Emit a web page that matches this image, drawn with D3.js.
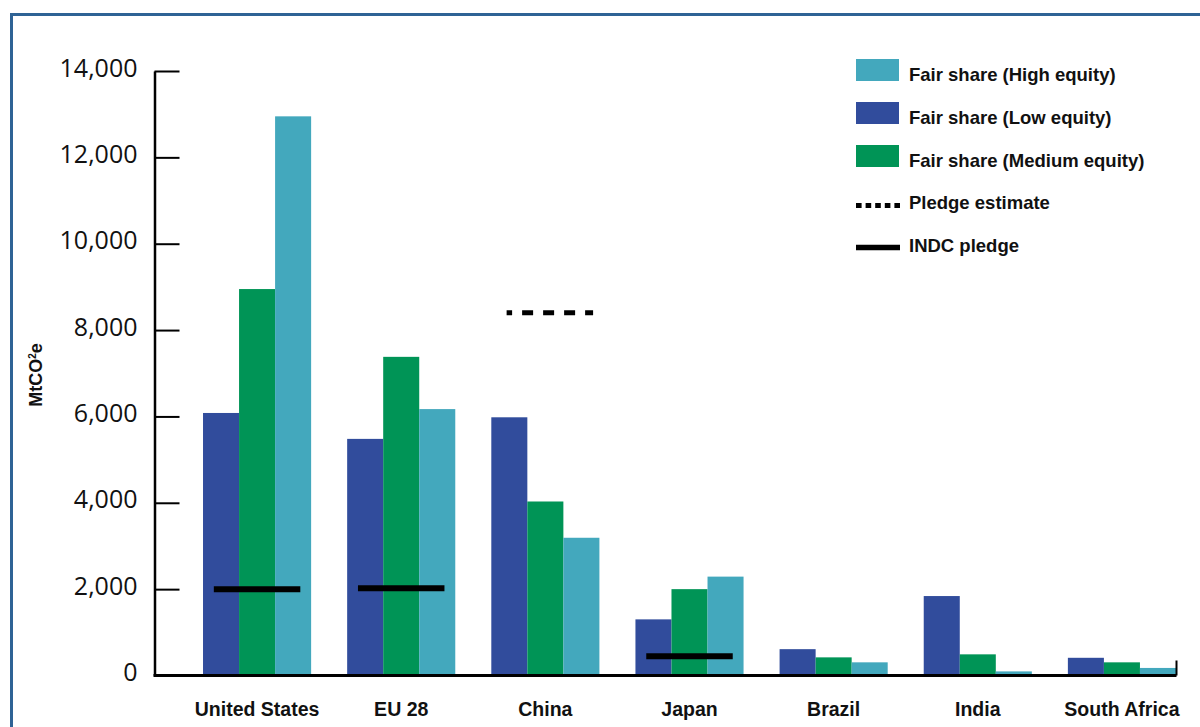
<!DOCTYPE html>
<html>
<head>
<meta charset="utf-8">
<script src="https://cdn.jsdelivr.net/npm/d3@7"></script>
<style>
  html, body { margin: 0; padding: 0; background: #fff; }
  svg { display: block; }
</style>
</head>
<body>
<svg id="chart" width="1200" height="727"></svg>
<script>
// Emission allowances by country under three equity scenarios (MtCO2e)
const categories = ["United States", "EU 28", "China", "Japan", "Brazil", "India", "South Africa"];
const lowEquity    = [6080, 5480, 5980, 1300, 610, 1840, 410];
const mediumEquity = [8950, 7380, 4030, 2000, 420, 490, 305];
const highEquity   = [12950, 6170, 3190, 2290, 305, 95, 175];
const indcPledge     = [2000, 2020, null, 445, null, null, null];
const pledgeEstimate = [null, null, 8400, null, null, null, null];
const yTicks = [0, 2000, 4000, 6000, 8000, 10000, 12000, 14000];

const seriesNames = ["Fair share (Low equity)", "Fair share (Medium equity)", "Fair share (High equity)"];
const seriesValues = [lowEquity, mediumEquity, highEquity];
const seriesColors = ["#314c9c", "#009456", "#43a8bd"];

const svg = d3.select("#chart");

// frame
svg.append("path")
  .attr("d", "M11.5,727 V14.5 H1200")
  .attr("fill", "none")
  .attr("stroke", "#2f6395")
  .attr("stroke-width", 3);

const axisX = 154.5, baseY = 675.5, topY = 71, rightX = 1176.5;

const y = d3.scaleLinear().domain([0, 14000]).range([baseY, topY]);
const x = d3.scaleBand().domain(categories).range([185, 1194])
  .paddingInner(0.25).paddingOuter(0.125);
const xs = d3.scaleBand().domain(d3.range(3)).range([0, x.bandwidth()]);

// bars
const groups = svg.append("g").selectAll("g")
  .data(categories).join("g")
  .attr("transform", d => `translate(${x(d)},0)`);

groups.selectAll("rect")
  .data((d, i) => seriesValues.map((vals, s) => ({ s, v: vals[i] })))
  .join("rect")
  .attr("x", d => xs(d.s))
  .attr("width", xs.bandwidth())
  .attr("y", d => y(d.v))
  .attr("height", d => baseY - y(d.v))
  .attr("fill", d => seriesColors[d.s]);

// pledge markers
const lineW = x.bandwidth() * 0.8;
svg.append("g").selectAll("line")
  .data(categories.map((c, i) => ({ c, v: indcPledge[i] })).filter(d => d.v != null))
  .join("line")
  .attr("x1", d => x(d.c) + x.bandwidth() / 2 - lineW / 2)
  .attr("x2", d => x(d.c) + x.bandwidth() / 2 + lineW / 2)
  .attr("y1", d => y(d.v)).attr("y2", d => y(d.v))
  .attr("stroke", "#000").attr("stroke-width", 6);

svg.append("g").selectAll("line")
  .data(categories.map((c, i) => ({ c, v: pledgeEstimate[i] })).filter(d => d.v != null))
  .join("line")
  .attr("x1", d => x(d.c) + x.bandwidth() / 2 - lineW / 2 + 4.5)
  .attr("x2", d => x(d.c) + x.bandwidth() / 2 + lineW / 2 + 4.5)
  .attr("y1", d => y(d.v)).attr("y2", d => y(d.v))
  .attr("stroke", "#000").attr("stroke-width", 5)
  .attr("stroke-dasharray", "11 10").attr("stroke-dashoffset", 5.5);

// y axis
const yAxis = svg.append("g")
  .attr("transform", `translate(${axisX},0)`)
  .call(d3.axisLeft(y).tickValues(yTicks).tickFormat(d3.format(",")).tickSizeInner(-25).tickSizeOuter(0).tickPadding(17));
yAxis.select(".domain").attr("stroke", "#000").attr("stroke-width", 2.5);
yAxis.selectAll(".tick line").attr("stroke", "#000").attr("stroke-width", 2);
yAxis.selectAll(".tick text")
  .attr("font-family", "'Open Sans', sans-serif")
  .attr("font-size", 25)
  .attr("fill", "#111")
  .attr("dy", "0.2em");

// x axis baseline
svg.append("line")
  .attr("x1", axisX - 1).attr("x2", rightX)
  .attr("y1", baseY).attr("y2", baseY)
  .attr("stroke", "#000").attr("stroke-width", 3);
svg.append("line")
  .attr("x1", rightX).attr("x2", rightX)
  .attr("y1", baseY).attr("y2", baseY - 15)
  .attr("stroke", "#000").attr("stroke-width", 2);

// category labels
const xAxis = svg.append("g")
  .attr("transform", `translate(0,${baseY})`)
  .call(d3.axisBottom(x).tickSize(0).tickPadding(27));
xAxis.select(".domain").remove();
xAxis.selectAll(".tick text")
  .attr("font-family", "'Liberation Sans', Arial, sans-serif")
  .attr("font-weight", "bold")
  .attr("font-size", 19.5)
  .attr("fill", "#111");

// y axis title
const yTitle = svg.append("text")
  .attr("transform", "translate(42,375) rotate(-90)")
  .attr("text-anchor", "middle")
  .attr("font-family", "'Liberation Sans', Arial, sans-serif")
  .attr("font-weight", "bold")
  .attr("font-size", 18)
  .attr("fill", "#111");
yTitle.append("tspan").text("MtCO");
yTitle.append("tspan").attr("font-size", 10).attr("dy", -6).text("2");
yTitle.append("tspan").attr("dy", 6).text("e");

// legend
const legendItems = [
  { label: "Fair share (High equity)", type: "rect", color: seriesColors[2], y: 70, ty: 80.5 },
  { label: "Fair share (Low equity)", type: "rect", color: seriesColors[0], y: 113, ty: 123.5 },
  { label: "Fair share (Medium equity)", type: "rect", color: seriesColors[1], y: 156, ty: 166.5 },
  { label: "Pledge estimate", type: "dash", y: 205.5, ty: 209 },
  { label: "INDC pledge", type: "line", y: 247.5, ty: 251.5 }
];
const legend = svg.append("g").attr("font-family", "'Liberation Sans', Arial, sans-serif");
legendItems.forEach(it => {
  if (it.type === "rect") {
    legend.append("rect").attr("x", 856).attr("y", it.y - 11).attr("width", 43).attr("height", 22).attr("fill", it.color);
  } else if (it.type === "dash") {
    legend.append("line").attr("x1", 856).attr("x2", 900).attr("y1", it.y).attr("y2", it.y)
      .attr("stroke", "#000").attr("stroke-width", 5).attr("stroke-dasharray", "5.6 4");
  } else {
    legend.append("line").attr("x1", 856).attr("x2", 900).attr("y1", it.y).attr("y2", it.y)
      .attr("stroke", "#000").attr("stroke-width", 5.5);
  }
  legend.append("text").attr("x", 909).attr("y", it.ty)
    .attr("font-size", 18.5).attr("font-weight", "bold").attr("fill", "#111")
    .text(it.label);
});
</script>
</body>
</html>
